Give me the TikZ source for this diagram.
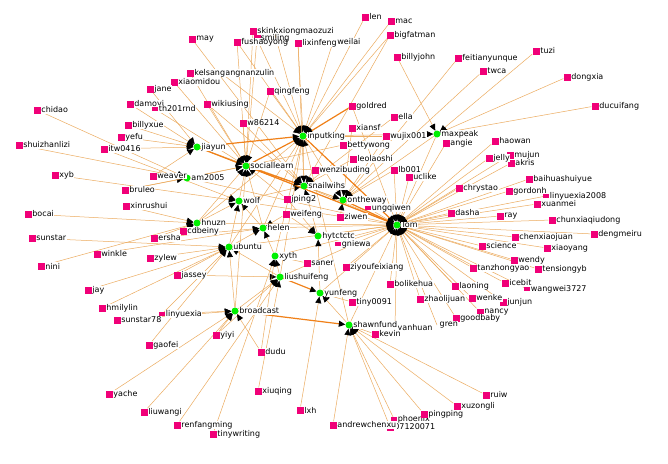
\documentclass[tikz,border=0pt]{standalone}
\usepackage{fontspec}
\newfontfamily\dv{DejaVu Sans}
\usetikzlibrary{arrows.meta,backgrounds}
\definecolor{pinkc}{RGB}{240,0,120}
\definecolor{greenc}{RGB}{0,240,0}
\definecolor{edgec}{RGB}{236,172,96}
\definecolor{edged}{RGB}{240,128,24}
\newcommand\mkleaf[3]{\node[leaf,label={[lbl]right:#3}] (#1) at (#2) {};}
\newcommand\mkleafs[3]{\node[leafs,label={[lbl]right:#3}] (#1) at (#2) {};}
\newcommand\mkhub[3]{\node[hub,label={[lbl]right:#3}] (#1) at (#2) {};}
\begin{document}
\begin{tikzpicture}[x=1pt,y=-1pt,
 leaf/.style={rectangle,fill=pinkc,minimum size=7pt,inner sep=0pt},
 leafs/.style={rectangle,fill=pinkc,minimum width=6pt,minimum height=3.5pt,inner sep=0pt},
 hub/.style={circle,fill=greenc,minimum size=7pt,inner sep=0pt},
 lbl/.style={font=\dv\fontsize{8}{9}\selectfont,inner sep=0.5pt,fill=white,text=black},
 txt/.style={lbl,anchor=west},
 e/.style={draw=edgec,line width=0.5pt,-{Triangle[length=6.5pt,width=6pt,color=black]}},
 eh/.style={e,draw=edged,line width=1.2pt},
 label distance=0pt]
\useasboundingbox (0,0) rectangle (668,463);

% hub partly hidden under a label
\mkhub{teamhub}{187,178}{am2005}
% squares hidden under other labels
\mkleaf{xiongmaozuzi}{274,31}{xiongmaozuzi}
\mkleaf{skink}{253,31}{skink}
\mkleaf{smiling}{257,38}{}
\mkleaf{weilai}{333,42}{weilai}
\mkleaf{angnanzulin}{221,73}{angnanzulin}
\mkleaf{akris}{511,163}{akris}
\mkleaf{mujun}{510,155}{mujun}
\mkleaf{uclike}{409,177}{uclike}
\mkleaf{junjun}{503,302}{junjun}
\mkleaf{n0712}{390,427}{07120071}
\coordinate (grenc) at (437,325);
\coordinate (yanhuanc) at (395,328);

% leaves
\mkleaf{may}{192,39}{may}
\mkleaf{kelsang}{190,73}{kelsang}
\mkleaf{xiaomidou}{174,82}{xiaomidou}
\mkleaf{jane}{150,89}{jane}
\mkleaf{damoyi}{130,104}{damoyi}
\mkleafs{th201rnd}{155,109}{th201rnd}
\mkleaf{wikiusing}{207,104}{wikiusing}
\mkleaf{chidao}{37,110}{chidao}
\mkleaf{billyxue}{128,125}{billyxue}
\mkleaf{yefu}{121,137}{yefu}
\mkleaf{shuizhanlizi}{19,145}{shuizhanlizi}
\mkleaf{itw0416}{104,149}{itw0416}
\mkleaf{len}{365,17}{len}
\mkleaf{mac}{391,21}{mac}
\mkleaf{fushaoyong}{237,42}{fushaoyong}
\node[lbl,fill=none,anchor=west] (smilingtxt) at (260,38) {smiling};
\mkleaf{lixinfeng}{298,43}{lixinfeng}
\mkleaf{bigfatman}{390,35}{bigfatman}
\mkleaf{billyjohn}{397,57}{billyjohn}
\mkleaf{qingfeng}{270,91}{qingfeng}
\mkleaf{w86214}{243,123}{w86214}
\mkleaf{goldred}{352,106}{goldred}
\mkleaf{ella}{394,117}{ella}
\mkleaf{xiansf}{352,128}{xiansf}
\mkleaf{wujix001}{386,136}{wujix001}
\mkleaf{bettywong}{343,145}{bettywong}
\mkleaf{angie}{446,143}{angie}
\mkleaf{feitianyunque}{458,58}{feitianyunque}
\mkleaf{tuzi}{536,51}{tuzi}
\mkleaf{twca}{483,71}{twca}
\mkleaf{dongxia}{567,77}{dongxia}
\mkleaf{ducuifang}{595,106}{ducuifang}
\mkleaf{haowan}{495,141}{haowan}
\mkleaf{jelly}{489,158}{jelly}
\mkleaf{baihuashuiyue}{529,179}{baihuashuiyue}
\mkleaf{chrystao}{459,188}{chrystao}
\mkleaf{gordonh}{509,191}{gordonh}
\mkleafs{linyuexiaB}{546,196}{linyuexia2008}
\mkleaf{xuanmei}{537,204}{xuanmei}
\mkleaf{dasha}{451,213}{dasha}
\mkleaf{ray}{500,216}{ray}
\mkleaf{chunxiaqiudong}{552,220}{chunxiaqiudong}
\mkleaf{dengmeiru}{594,234}{dengmeiru}
\mkleaf{chenxiaojuan}{515,237}{chenxiaojuan}
\mkleaf{science}{482,246}{science}
\mkleaf{xiaoyang}{547,248}{xiaoyang}
\mkleaf{wendy}{514,260}{wendy}
\mkleaf{tanzhongyao}{473,268}{tanzhongyao}
\mkleaf{tensiongyb}{538,269}{tensiongyb}
\mkleaf{icebit}{505,283}{icebit}
\mkleafs{wangwei}{527,289}{wangwei3727}
\mkleaf{laoning}{455,286}{laoning}
\mkleaf{wenke}{472,298}{wenke}
\mkleaf{nancy}{480,312}{nancy}
\mkleaf{goodbaby}{456,318}{goodbaby}
\node[txt] (gren) at (439,325) {gren};
\node[txt] (yanhuan) at (397,328) {yanhuan};
\mkleaf{kevin}{375,334}{kevin}
\mkleaf{zhaolijuan}{420,299}{zhaolijuan}
\mkleaf{bolikehua}{390,284}{bolikehua}
\mkleaf{ziyoufeixiang}{346,267}{ziyoufeixiang}
\mkleaf{tiny0091}{352,302}{tiny0091}
\mkleaf{saner}{307,263}{saner}
\mkleafs{gniewa}{338,244}{gniewa}
\mkleaf{ziwen}{340,217}{ziwen}
\mkleaf{weifeng}{286,214}{weifeng}
\mkleaf{jping2}{287,199}{jping2}
\mkleafs{ungqiwen}{368,208}{ungqiwen}
\mkleaf{leolaoshi}{353,159}{leolaoshi}
\mkleaf{wenzibuding}{315,170}{wenzibuding}
\mkleaf{lb001}{394,170}{lb001}
\mkleaf{cdbeiny}{183,231}{cdbeiny}
\mkleaf{xinrushui}{126,206}{xinrushui}
\mkleaf{bruleo}{125,190}{bruleo}
\mkleaf{weaver}{153,176}{weaver}
\mkleaf{xyb}{55,175}{xyb}
\mkleaf{bocai}{28,214}{bocai}
\mkleaf{sunstar}{32,238}{sunstar}
\mkleaf{ersha}{154,238}{ersha}
\mkleaf{winkle}{97,254}{winkle}
\mkleaf{zylew}{150,258}{zylew}
\mkleaf{nini}{41,266}{nini}
\mkleaf{jassey}{177,275}{jassey}
\mkleaf{jay}{88,290}{jay}
\mkleaf{hmilylin}{102,308}{hmilylin}
\mkleaf{sunstarB}{117,320}{sunstar78}
\mkleafs{linyuexia}{162,314}{linyuexia}
\mkleaf{gaofei}{149,345}{gaofei}
\mkleaf{yiyi}{216,335}{yiyi}
\mkleaf{yache}{109,394}{yache}
\mkleaf{liuwangi}{144,412}{liuwangi}
\mkleaf{renfangming}{177,425}{renfangming}
\mkleaf{tinywriting}{213,434}{tinywriting}
\mkleaf{dudu}{261,352}{dudu}
\mkleaf{xiuqing}{258,391}{xiuqing}
\mkleaf{lxh}{300,410}{lxh}
\mkleaf{andrewchenxu}{333,425}{andrewchenxu}
\mkleafs{phoenix}{394,419}{phoenix}
\mkleaf{pingping}{424,414}{pingping}
\mkleaf{xuzongli}{457,406}{xuzongli}
\mkleaf{ruiw}{486,395}{ruiw}

% hubs
\mkhub{jiayun}{197,147}{jiayun}
\mkhub{sociallearn}{246,166}{sociallearn}
\mkhub{inputking}{303,136}{inputking}
\mkhub{maxpeak}{437,134}{maxpeak}
\mkhub{hnuzn}{197,223}{hnuzn}
\mkhub{wolf}{239,201}{wolf}
\mkhub{snailwihs}{304,186}{snailwihs}
\mkhub{ontheway}{343,200}{ontheway}
\mkhub{Tom}{397,225}{Tom}
\mkhub{helen}{263,228}{helen}
\mkhub{hytctctc}{318,236}{hytctctc}
\mkhub{ubuntu}{229,247}{ubuntu}
\mkhub{xyth}{275,256}{xyth}
\mkhub{liushuifeng}{280,277}{liushuifeng}
\mkhub{yunfeng}{320,293}{yunfeng}
\mkhub{broadcast}{235,311}{broadcast}
\mkhub{shawnfund}{349,325}{shawnfund}

\begin{scope}[on background layer]
\fill[white] (0,0) rectangle (668,463);
\foreach \a/\b in {may/snailwihs, kelsang/sociallearn, xiaomidou/sociallearn, jane/jiayun,
 damoyi/jiayun, th201rnd/sociallearn, wikiusing/sociallearn, wikiusing/snailwihs,
 chidao/teamhub, billyxue/jiayun, yefu/jiayun, shuizhanlizi/teamhub, itw0416/jiayun, itw0416/wolf,
 len/inputking, mac/inputking, skink/inputking, skink/sociallearn, xiongmaozuzi/inputking,
 smiling/sociallearn, fushaoyong/sociallearn, fushaoyong/inputking, lixinfeng/inputking,
 lixinfeng/snailwihs, weilai/inputking, bigfatman/inputking, bigfatman/snailwihs,
 billyjohn/maxpeak, qingfeng/sociallearn, qingfeng/inputking, angnanzulin/inputking,
 w86214/sociallearn, w86214/snailwihs, goldred/Tom, ella/snailwihs, xiansf/ontheway,
 wujix001/ontheway, wujix001/inputking, bettywong/sociallearn, angie/Tom,
 feitianyunque/ontheway, tuzi/maxpeak, twca/ontheway, dongxia/maxpeak, ducuifang/maxpeak,
 haowan/Tom, jelly/Tom, mujun/Tom, akris/Tom, baihuashuiyue/Tom, chrystao/Tom, gordonh/Tom,
 linyuexiaB/Tom, xuanmei/Tom, dasha/Tom, ray/Tom, chunxiaqiudong/Tom, dengmeiru/Tom,
 chenxiaojuan/Tom, science/Tom, xiaoyang/Tom, wendy/Tom, tanzhongyao/Tom, tensiongyb/Tom,
 icebit/Tom, wangwei/Tom, laoning/Tom, wenke/Tom, junjun/Tom, nancy/Tom, goodbaby/Tom,
 grenc/Tom, yanhuanc/Tom, zhaolijuan/Tom, bolikehua/Tom, ziyoufeixiang/Tom, tiny0091/yunfeng,
 saner/xyth, gniewa/Tom, ziwen/ontheway, weifeng/helen, weifeng/hytctctc, jping2/sociallearn,
 jping2/hytctctc, ungqiwen/Tom, leolaoshi/snailwihs, wenzibuding/sociallearn, lb001/Tom,
 lb001/ontheway, uclike/Tom, cdbeiny/hnuzn, xinrushui/hnuzn, bruleo/teamhub, bruleo/sociallearn,
 weaver/jiayun, xyb/wolf, bocai/hnuzn, sunstar/ubuntu, ersha/hnuzn, ersha/helen, winkle/helen,
 zylew/ubuntu, nini/hnuzn, jassey/liushuifeng, jassey/ubuntu, jay/ubuntu, hmilylin/ubuntu,
 sunstarB/broadcast, linyuexia/broadcast, linyuexia/ubuntu, gaofei/ubuntu, yiyi/broadcast,
 yiyi/liushuifeng, yache/broadcast, liuwangi/broadcast, renfangming/liushuifeng,
 tinywriting/xyth, dudu/xyth, dudu/broadcast, xiuqing/liushuifeng, lxh/yunfeng,
 andrewchenxu/shawnfund, n0712/shawnfund, phoenix/shawnfund, pingping/shawnfund,
 xuzongli/shawnfund, ruiw/shawnfund, kevin/shawnfund,
 jiayun/Tom, teamhub/sociallearn, teamhub/Tom, hnuzn/wolf, hnuzn/Tom, hnuzn/sociallearn,
 wolf/sociallearn, wolf/snailwihs, wolf/Tom, sociallearn/ontheway, inputking/maxpeak,
 inputking/snailwihs, inputking/ontheway, maxpeak/Tom, snailwihs/Tom, snailwihs/ontheway,
 helen/Tom, helen/wolf, helen/sociallearn, hytctctc/Tom, hytctctc/snailwihs, ubuntu/helen,
 ubuntu/Tom, ubuntu/wolf, xyth/Tom, xyth/helen, liushuifeng/Tom, liushuifeng/xyth,
 liushuifeng/ubuntu, yunfeng/Tom, broadcast/liushuifeng, broadcast/ubuntu, shawnfund/Tom,
 shawnfund/yunfeng, yunfeng/hytctctc, maxpeak/ontheway, ubuntu/inputking, hnuzn/inputking,
 broadcast/sociallearn, shawnfund/inputking, liushuifeng/inputking, jiayun/snailwihs,
 xyth/inputking, helen/inputking}
 \draw[e] (\a) -- (\b);
\foreach \a/\b in {sociallearn/inputking, inputking/Tom, sociallearn/Tom, goldred/inputking,
 sociallearn/snailwihs, ontheway/Tom, broadcast/shawnfund, jiayun/sociallearn, jiayun/inputking,
 liushuifeng/yunfeng}
 \draw[eh] (\a) -- (\b);
\end{scope}
\end{tikzpicture}
\end{document}
